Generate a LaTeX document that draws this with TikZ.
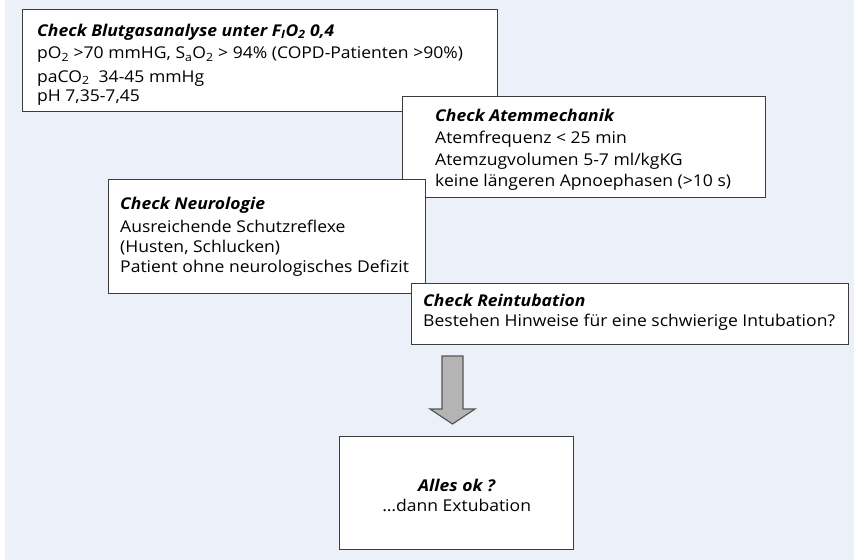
\documentclass[tikz,border=0pt]{standalone}
\usepackage{fontspec}
\setmainfont{Open Sans}[FakeStretch=1.08]
\usetikzlibrary{calc}
\definecolor{bgc}{RGB}{236,241,249}
\definecolor{bordc}{RGB}{60,60,60}
\definecolor{arrfill}{RGB}{180,180,180}
\definecolor{arrdraw}{RGB}{85,85,85}
\begin{document}
\begin{tikzpicture}[x=1bp,y=-1bp,
  box/.style={draw=bordc, line width=1.3bp, fill=white, anchor=north west, inner sep=0pt},
  txt/.style={anchor=base west, align=left, inner sep=0pt, font=\fontsize{16.3}{21.5}\selectfont},
]
\useasboundingbox (0,0) rectangle (854,560);
\fill[bgc] (5,0) rectangle (854,560);

% anchor "base" of a multi-line node = baseline of its last line
\node[box, minimum width=475bp, minimum height=102bp] (b1) at (22,9) {};
\node[txt] (t1) at ($(b1.north west)+(15,93)$) {{\bfseries\itshape Check Blutgasanalyse unter F\textsubscript{I}O\textsubscript{2} 0,4}\\[1.2bp]
pO\textsubscript{2} >70 mmHG, S\textsubscript{a}O\textsubscript{2} > 94\% (COPD-Patienten >90\%)\\[1.7bp]
paCO\textsubscript{2}\ \ 34-45 mmHg\\[-1.5bp]
pH 7,35-7,45};

\node[box, minimum width=363bp, minimum height=101bp] (b2) at (402,96) {};
\node[txt] (t2) at ($(b2.north west)+(33,91)$) {{\bfseries\itshape Check Atemmechanik}\\[0.5bp]
Atemfrequenz < 25 min\\[0.5bp]
Atemzugvolumen 5-7 ml/kgKG\\[0.5bp]
keine längeren Apnoephasen (>10 s)};

\node[box, minimum width=317bp, minimum height=114bp] (b3) at (108,179) {};
\node[txt] (t3) at ($(b3.north west)+(12,94)$) {{\bfseries\itshape Check Neurologie}\\[1bp]
Ausreichende Schutzreflexe\\[-1bp]
(Husten, Schlucken)\\[-1bp]
Patient ohne neurologisches Defizit};

\node[box, minimum width=437bp, minimum height=61bp] (b4) at (411,283) {};
\node[txt] (t4) at ($(b4.north west)+(12,44)$) {{\bfseries\itshape Check Reintubation}\\[-1bp]
Bestehen Hinweise für eine schwierige Intubation?};

\node[box, minimum width=234bp, minimum height=113bp] (b5) at (339,436) {};
\node[txt, anchor=base, align=center] (t5) at ($(b5.north)+(0,75)$) {{\bfseries\itshape Alles ok ?}\\[-1.5bp]
…dann Extubation};

\draw[fill=arrfill, draw=arrdraw, line width=1.2bp, line join=miter]
  (442,356) -- (463,356) -- (463,409) -- (475,409) -- (452.5,424) -- (430,409) -- (442,409) -- cycle;
\end{tikzpicture}
\end{document}
